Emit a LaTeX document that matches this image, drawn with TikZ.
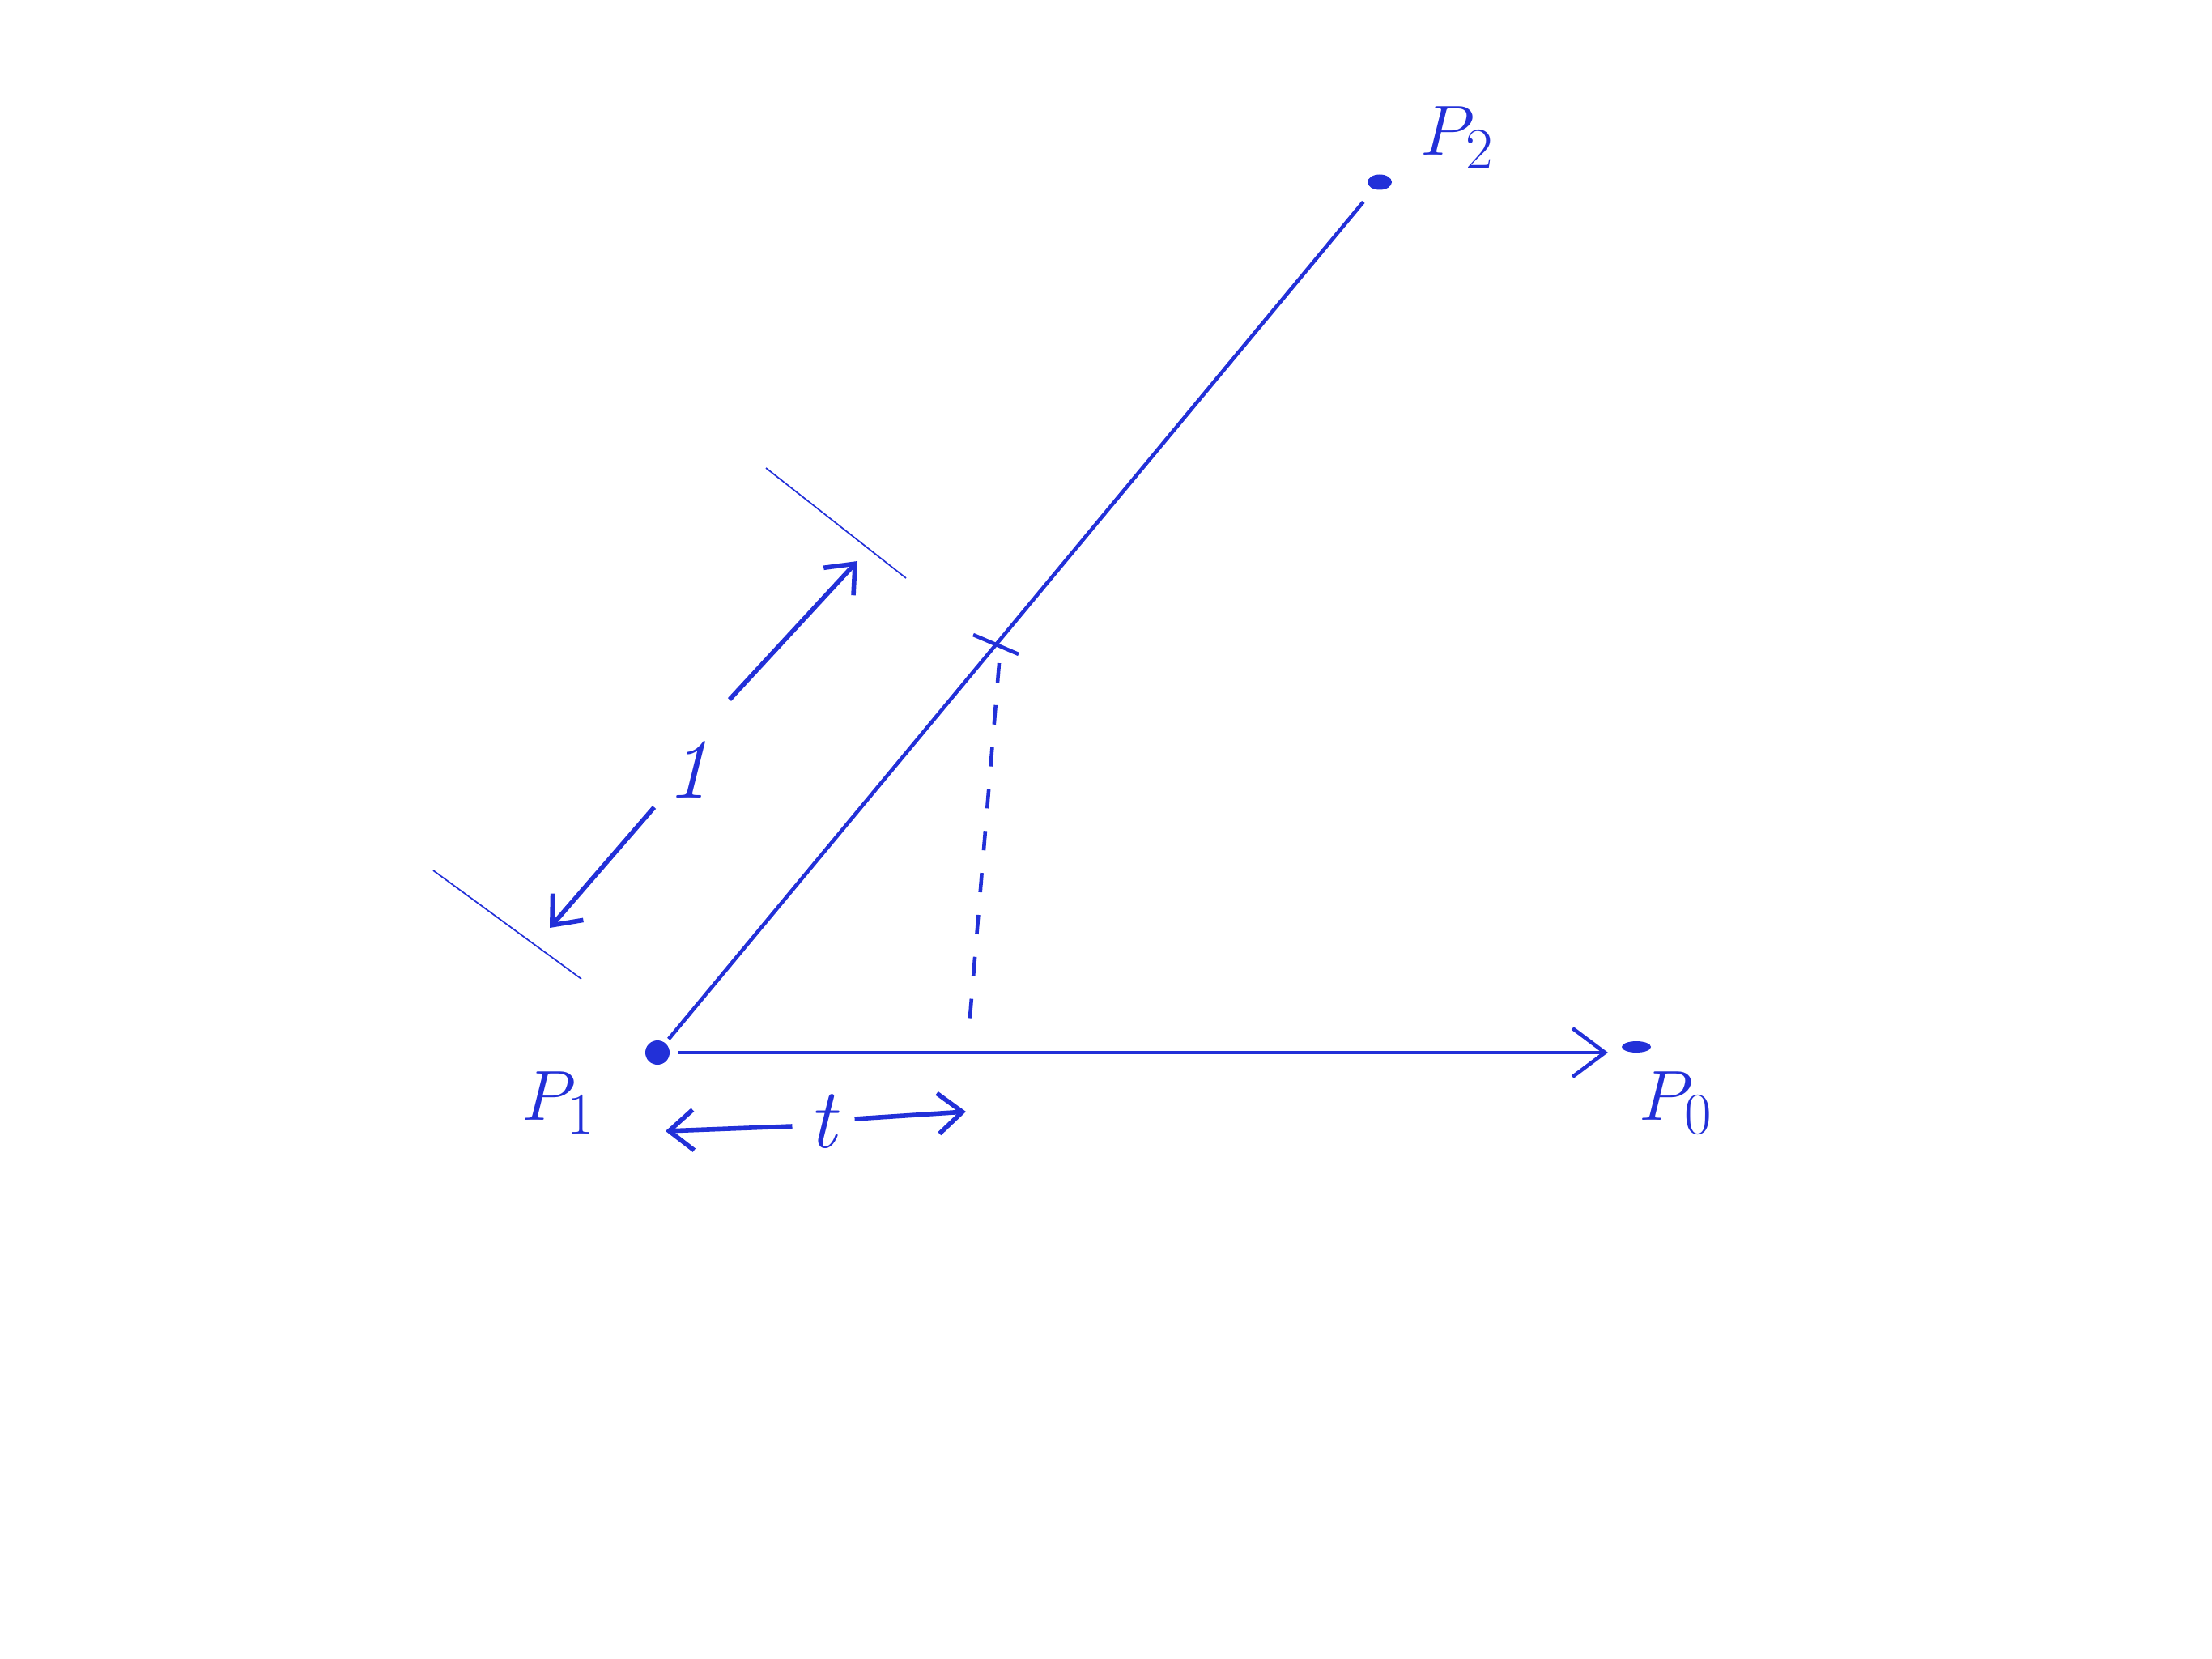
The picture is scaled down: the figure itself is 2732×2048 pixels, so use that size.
\documentclass[tikz,border=0pt]{standalone}
\usetikzlibrary{arrows.meta,shapes.geometric}
\definecolor{ink}{HTML}{2230D8}
\begin{document}
\begin{tikzpicture}[x=0.1mm,y=-0.1mm,
  every node/.style={text=ink},
  dot/.style={ellipse,fill=ink,inner sep=0pt,minimum width=3mm,minimum height=3mm},
  main/.style={draw=ink,line width=1.3pt},
  thin/.style={draw=ink,line width=0.5pt},
  dim/.style={draw=ink,line width=1.6pt,-{Straight Barb[length=3mm,width=5mm,line width=1.6pt]}},
  lbl/.style={font=\fontsize{30}{36}\selectfont\itshape}]
\useasboundingbox (0,0) rectangle (2732,2048);
\node[dot] (p1) at (812,1300) {};
\node[dot,minimum width=3mm,minimum height=1.9mm] (p2) at (1704,225) {};
\node[dot,minimum width=3.6mm,minimum height=1.4mm] (p0) at (2021,1293) {};
\node[lbl] (l1) at (690,1362) {$P_1$};
\node[lbl] (l2) at (1800,170) {$P_2$};
\node[lbl] (l0) at (2070,1362) {$P_0$};
% main segments
\draw[main,shorten <=0.6mm,shorten >=2mm] (p1) -- (p2);
\coordinate (hend) at (1986,1300);
\draw[main,-{Straight Barb[length=4mm,width=6mm,line width=1.3pt]},shorten <=1mm] (p1.east) -- (hend);
% tick and dashed projection
\coordinate (ta) at (1202,784);
\coordinate (tb) at (1258,808);
\draw[main] (ta) -- (tb);
\coordinate (da) at (1234,819);
\coordinate (db) at (1197,1268);
\draw[main,dash pattern=on 2.4mm off 2.8mm] (da) -- (db);
% dimension ticks
\coordinate (u1) at (946,578);
\coordinate (u2) at (1119,714);
\coordinate (b1) at (535,1075);
\coordinate (b2) at (718,1209);
\draw[thin] (u1) -- (u2);
\draw[thin] (b1) -- (b2);
% dimension "1"
\node[lbl] (one) at (850,950) {1};
\coordinate (d1) at (679,1146);
\coordinate (d2) at (1059,693);
\draw[dim] (808,997) -- (d1);
\draw[dim] (901,864) -- (d2);
% "t"
\node[lbl] (t) at (1016,1385) {t};
\coordinate (tl) at (822,1397);
\coordinate (tr) at (1193,1373);
\draw[dim] (t.west) ++(-8,6) -- (tl);
\draw[dim] (t.east) ++(10,-3) -- (tr);
\end{tikzpicture}
\end{document}
